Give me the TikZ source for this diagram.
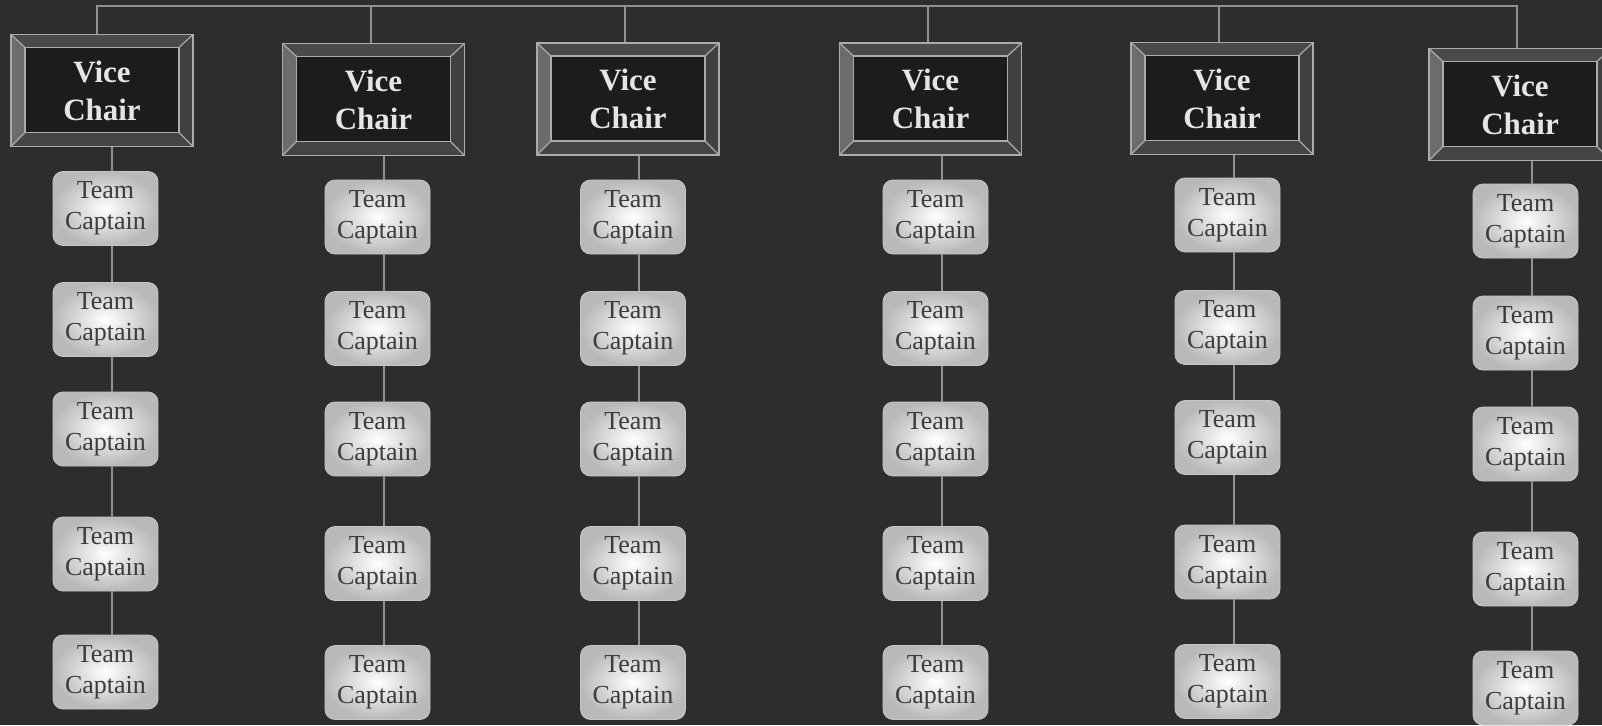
\documentclass[tikz,border=0pt]{standalone}
\usepackage{fontspec}
\setmainfont{Liberation Serif}
\definecolor{bg}{HTML}{2D2D2D}
\definecolor{frameln}{HTML}{ABABAB}
\definecolor{innerfill}{HTML}{1C1C1C}
\definecolor{bevT}{HTML}{4A4A4A}
\definecolor{bevB}{HTML}{444444}
\definecolor{bevL}{HTML}{6C6C6C}
\definecolor{bevR}{HTML}{404040}
\definecolor{connc}{HTML}{909090}
\definecolor{captxt}{HTML}{3C3C3C}
\begin{document}
\begin{tikzpicture}[x=1pt,y=-1pt,
  conn/.style={draw=connc, line width=2pt},
  vchair/.style={rectangle, draw=frameln, line width=1.6pt,
    minimum width=182pt, minimum height=112pt, inner sep=0pt,
    align=center, text=white!90!black,
    font=\bfseries\fontsize{31}{38}\selectfont,
    path picture={
      \fill[bevT] (path picture bounding box.north west) -- (path picture bounding box.north east)
        -- ([xshift=-14pt,yshift=-13pt]path picture bounding box.north east)
        -- ([xshift=14pt,yshift=-13pt]path picture bounding box.north west) -- cycle;
      \fill[bevB] (path picture bounding box.south west) -- (path picture bounding box.south east)
        -- ([xshift=-14pt,yshift=14pt]path picture bounding box.south east)
        -- ([xshift=14pt,yshift=14pt]path picture bounding box.south west) -- cycle;
      \fill[bevL] (path picture bounding box.north west) -- (path picture bounding box.south west)
        -- ([xshift=14pt,yshift=14pt]path picture bounding box.south west)
        -- ([xshift=14pt,yshift=-13pt]path picture bounding box.north west) -- cycle;
      \fill[bevR] (path picture bounding box.north east) -- (path picture bounding box.south east)
        -- ([xshift=-14pt,yshift=14pt]path picture bounding box.south east)
        -- ([xshift=-14pt,yshift=-13pt]path picture bounding box.north east) -- cycle;
      \draw[frameln, line width=1.4pt, fill=innerfill]
        ([xshift=14pt,yshift=14pt]path picture bounding box.south west)
        rectangle ([xshift=-14pt,yshift=-13pt]path picture bounding box.north east);
      \draw[frameln, line width=1.2pt]
        (path picture bounding box.north west) -- ([xshift=14pt,yshift=-13pt]path picture bounding box.north west)
        (path picture bounding box.north east) -- ([xshift=-14pt,yshift=-13pt]path picture bounding box.north east)
        (path picture bounding box.south west) -- ([xshift=14pt,yshift=14pt]path picture bounding box.south west)
        (path picture bounding box.south east) -- ([xshift=-14pt,yshift=14pt]path picture bounding box.south east);
    }},
  captain/.style={rectangle, rounded corners=10pt, minimum width=105pt,
    minimum height=74pt, inner sep=0pt, align=center, text=captxt,
    font=\fontsize{26}{31}\selectfont,
    inner color=white, outer color=gray!55, draw=gray!45, line width=0.8pt}
]
\clip (0,0) rectangle (1602,725);
\fill[bg] (0,0) rectangle (1602,725);
\useasboundingbox (0,0) rectangle (1602,725);
\coordinate (top) at (0,6);

\foreach \i/\vx/\vy in {1/102/90.5, 2/373.5/99.5, 3/628/99, 4/930.5/99, 5/1222/98.5, 6/1520/104.5}
  \node[vchair] (v\i) at (\vx,\vy) {Vice\\Chair};

\foreach \i/\cx/\ya/\yb/\yc/\yd/\ye in {
    1/105.5/208.5/319.5/429/554/672,
    2/377.5/217/328.5/439/563.5/682.5,
    3/633/217/328.5/439/563.5/682.5,
    4/935.5/217/328.5/439/563.5/682.5,
    5/1227.5/215/327.5/437.5/562/681.5,
    6/1525.5/221/333/444/569/688}{
  \node[captain] (c\i-1) at (\cx,\ya) {Team\\Captain};
  \node[captain] (c\i-2) at (\cx,\yb) {Team\\Captain};
  \node[captain] (c\i-3) at (\cx,\yc) {Team\\Captain};
  \node[captain] (c\i-4) at (\cx,\yd) {Team\\Captain};
  \node[captain] (c\i-5) at (\cx,\ye) {Team\\Captain};
}

% top bus
\draw[conn] ([xshift=-5pt]v1.north) |- ([xshift=-3pt]v6.north |- top) -- ([xshift=-3pt]v6.north);
\foreach \i in {2,3,4,5}
  \draw[conn] ([xshift=-3pt]v\i.north) -- ([xshift=-3pt]v\i.north |- top);

% vice chair to captains
\foreach \i in {1,...,6}{
  \draw[conn] ([xshift=6pt]c\i-1.north) -- ([xshift=6pt]c\i-1.north |- v\i.south);
  \draw[conn] ([xshift=6pt]c\i-1.south) -- ([xshift=6pt]c\i-2.north);
  \draw[conn] ([xshift=6pt]c\i-2.south) -- ([xshift=6pt]c\i-3.north);
  \draw[conn] ([xshift=6pt]c\i-3.south) -- ([xshift=6pt]c\i-4.north);
  \draw[conn] ([xshift=6pt]c\i-4.south) -- ([xshift=6pt]c\i-5.north);
}
\end{tikzpicture}
\end{document}
